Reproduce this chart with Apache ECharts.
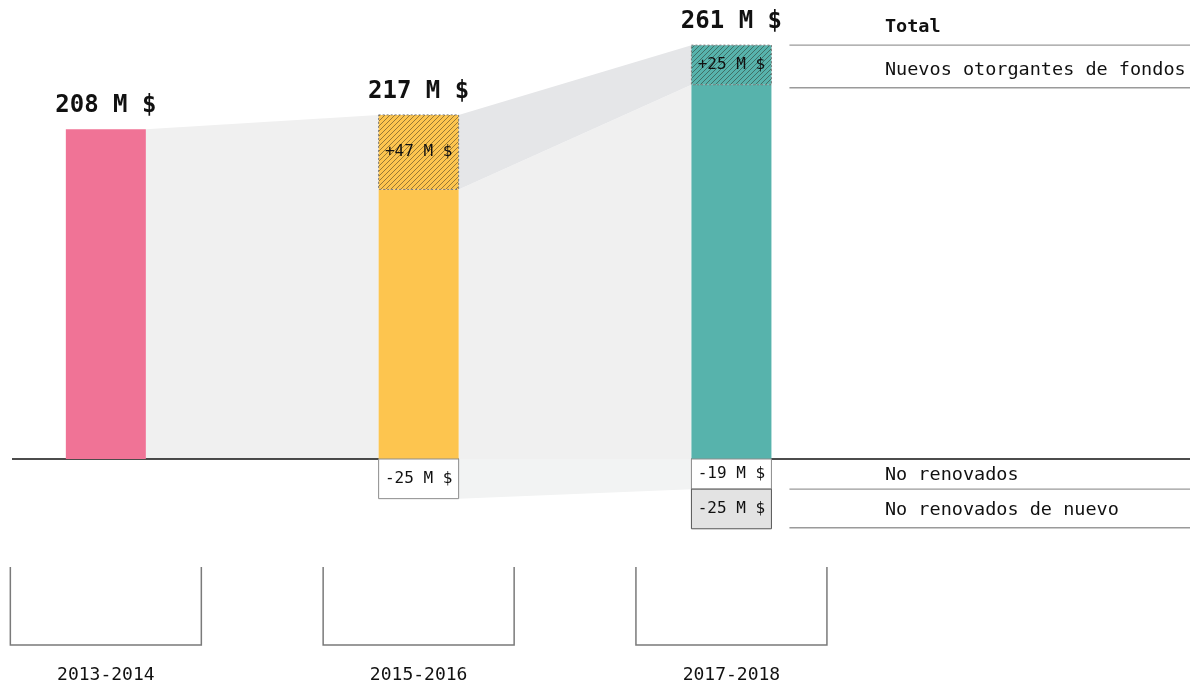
<!DOCTYPE html>
<html>
<head>
<meta charset="utf-8">
<script src="https://cdn.jsdelivr.net/npm/echarts@6/dist/echarts.min.js"></script>
<style>
html, body { margin: 0; padding: 0; background: #fff; }
#chart { width: 1193px; height: 688px; }
</style>
</head>
<body>
<div id="chart"></div>
<script>
// datos
const periods = ['2013-2014', '2015-2016', '2017-2018'];
const totals = [208, 217, 261];
const newFunders = [0, 47, 25];
const notRenewed = [0, -25, -19];
const notRenewedAgain = [0, 0, -25];
const barColors = ['#f07396', '#fdc54f', '#57b3ac'];
const rowLabels = ['Total', 'Nuevos otorgantes de fondos', 'No renovados', 'No renovados de nuevo'];

const FONT = '"DejaVu Sans Mono", "Liberation Mono", monospace';
const HALF = 40;

// rayado diagonal
function hatch(color) {
  const s = 5;
  const c = document.createElement('canvas');
  c.width = s; c.height = s;
  const ctx = c.getContext('2d');
  ctx.fillStyle = color;
  ctx.fillRect(0, 0, s, s);
  ctx.strokeStyle = 'rgba(40,35,25,0.6)';
  ctx.lineWidth = 0.8;
  for (let o = -s; o <= s; o += s) {
    ctx.beginPath();
    ctx.moveTo(o - 1, s + 1);
    ctx.lineTo(o + s + 1, -1);
    ctx.stroke();
  }
  return { image: c, repeat: 'repeat' };
}

function renderBar(params, api) {
  const i = params.dataIndex;
  const x = api.value(0);
  const total = totals[i];
  const add = newFunders[i];
  const c0 = api.coord([x, 0]);
  const cTop = api.coord([x, total]);
  const cBase = api.coord([x, total - add]);
  const cx = c0[0];
  const children = [];
  children.push({
    type: 'rect',
    shape: { x: cx - HALF, y: cBase[1], width: HALF * 2, height: c0[1] - cBase[1] },
    style: { fill: barColors[i] }
  });
  if (add > 0) {
    children.push({
      type: 'rect',
      shape: { x: cx - HALF, y: cTop[1], width: HALF * 2, height: cBase[1] - cTop[1] },
      style: { fill: hatch(barColors[i]), stroke: '#7a7a7a', lineWidth: 1, lineDash: [2, 2] }
    });
    children.push({
      type: 'text',
      x: cx, y: (cTop[1] + cBase[1]) / 2,
      style: { text: '+' + add + ' M $', fill: '#111', font: '16px ' + FONT, align: 'center', verticalAlign: 'middle' }
    });
  }
  children.push({
    type: 'text',
    x: cx, y: cTop[1] - 23,
    style: { text: total + ' M $', fill: '#111', font: 'bold 24px ' + FONT, align: 'center', verticalAlign: 'middle' }
  });
  // negativos
  let level = 0;
  [notRenewed[i], notRenewedAgain[i]].forEach((v, k) => {
    if (!v) return;
    const a = api.coord([x, level]);
    const b = api.coord([x, level + v]);
    children.push({
      type: 'rect',
      shape: { x: cx - HALF, y: a[1], width: HALF * 2, height: b[1] - a[1] },
      style: { fill: k === 0 ? '#ffffff' : '#e3e3e3', stroke: k === 0 ? '#8c8c8c' : '#555', lineWidth: 1 }
    });
    children.push({
      type: 'text',
      x: cx, y: (a[1] + b[1]) / 2,
      style: { text: v + ' M $', fill: '#111', font: '16px ' + FONT, align: 'center', verticalAlign: 'middle' }
    });
    level += v;
  });
  // corchete y periodo
  const by = c0[1];
  children.push({
    type: 'polyline',
    shape: { points: [[cx - 95.5, by + 108], [cx - 95.5, by + 186], [cx + 95.5, by + 186], [cx + 95.5, by + 108]] },
    style: { stroke: '#7a7a7a', lineWidth: 1.5, fill: null }
  });
  children.push({
    type: 'text',
    x: cx, y: by + 216,
    style: { text: periods[i], fill: '#111', font: '18px ' + FONT, align: 'center', verticalAlign: 'middle' }
  });
  return { type: 'group', children };
}

function renderBand(params, api) {
  const i = params.dataIndex;
  if (i >= periods.length - 1) return;
  const xa = i, xb = i + 1;
  const p = (xv, yv, dx) => { const c = api.coord([xv, yv]); return [c[0] + dx, c[1]]; };
  const children = [];
  const aTop = totals[i], aBase = totals[i] - newFunders[i];
  const bTop = totals[i + 1], bBase = totals[i + 1] - newFunders[i + 1];
  const hasNew = newFunders[i] > 0;
  // retenidos
  children.push({
    type: 'polygon',
    shape: { points: [p(xa, hasNew ? aBase : aTop, HALF), p(xb, hasNew ? bBase : bTop, -HALF), p(xb, 0, -HALF), p(xa, 0, HALF)] },
    style: { fill: '#f0f0f0' }
  });
  if (hasNew) {
    children.push({
      type: 'polygon',
      shape: { points: [p(xa, aTop, HALF), p(xb, bTop, -HALF), p(xb, bBase, -HALF), p(xa, aBase, HALF)] },
      style: { fill: '#e5e6e8' }
    });
  }
  if (notRenewed[i] < 0) {
    children.push({
      type: 'polygon',
      shape: { points: [p(xa, 0, HALF), p(xb, 0, -HALF), p(xb, notRenewed[i + 1], -HALF), p(xa, notRenewed[i], HALF)] },
      style: { fill: '#f2f3f3' }
    });
  }
  if (i === 0) {
    // linea base
    const cs = params.coordSys;
    const y0 = api.coord([0, 0])[1];
    children.push({
      type: 'line',
      shape: { x1: cs.x, y1: y0, x2: cs.x + cs.width, y2: y0 },
      style: { stroke: '#111', lineWidth: 1.5 }
    });
  }
  return { type: 'group', children };
}

function renderRows(params, api) {
  const i = params.dataIndex;
  const last = periods.length - 1;
  const rowValues = [
    totals[last],
    totals[last] - newFunders[last],
    notRenewed[last],
    notRenewed[last] + notRenewedAgain[last]
  ];
  const offs = [0, 3, 0, -1];
  const c = api.coord([last, rowValues[i]]);
  const y = c[1] + offs[i];
  const cs = params.coordSys;
  return {
    type: 'group',
    children: [
      { type: 'line', shape: { x1: c[0] + 58, y1: y, x2: cs.x + cs.width, y2: y }, style: { stroke: '#9a9a9a', lineWidth: 1.3 } },
      {
        type: 'text', x: c[0] + 153.5, y: y - (i === 2 ? 14 : 18),
        style: { text: rowLabels[i], fill: '#111', font: (i === 0 ? 'bold ' : '') + '18.5px ' + FONT, align: 'left', verticalAlign: 'middle' }
      }
    ]
  };
}

const chart = echarts.init(document.getElementById('chart'), null, { renderer: 'canvas' });
chart.setOption({
  animation: false,
  grid: { left: 12, right: 3, top: 15, bottom: 7 },
  xAxis: { type: 'value', min: -0.3, max: 3.466, show: false },
  yAxis: { type: 'value', min: -140, max: 280, show: false },
  series: [
    {
      type: 'custom',
      renderItem: renderBand,
      data: periods.map((p, i) => [i]),
      z: 1,
      silent: true
    },
    {
      type: 'custom',
      renderItem: renderBar,
      data: periods.map((p, i) => [i, totals[i]]),
      z: 2,
      silent: true
    },
    {
      type: 'custom',
      renderItem: renderRows,
      data: rowLabels.map((r, i) => [i]),
      z: 3,
      silent: true
    }
  ]
});
</script>
</body>
</html>
